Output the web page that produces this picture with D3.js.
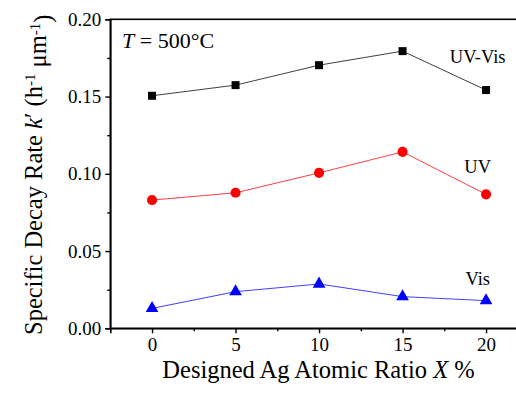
<!DOCTYPE html>
<html>
<head>
<meta charset="utf-8">
<script src="https://cdn.jsdelivr.net/npm/d3@7"></script>
<style>
  body { margin: 0; background: #fff; }
  svg text { font-family: "Liberation Serif", "Times New Roman", Times, "DejaVu Serif", serif; fill: #000; }
</style>
</head>
<body>
<svg id="chart" width="516" height="394"></svg>
<script>
// Designed Ag atomic ratio X (%)
const ratios = [0, 5, 10, 15, 20];
// Specific decay rate k' (h^-1 um^-1) under each illumination
const uvVis = [0.1505, 0.1574, 0.1703, 0.1794, 0.1542];
const uv    = [0.0830, 0.0877, 0.1006, 0.1142, 0.0867];
const vis   = [0.0129, 0.0237, 0.0287, 0.0205, 0.0179];
const seriesNames = ["UV-Vis", "UV", "Vis"];
// Axis ticks
const xTicks = [0, 5, 10, 15, 20];
const xMinorTicks = [2.5, 7.5, 12.5, 17.5];
const yTicks = [0.00, 0.05, 0.10, 0.15, 0.20];
const yMinorTicks = [0.025, 0.075, 0.125, 0.175];

const FONT = '"Liberation Serif", "Times New Roman", Times, "DejaVu Serif", serif';

const series = [
  { name: seriesNames[0], values: uvVis, color: "#000000", shape: d3.symbolSquare, size: 64 },
  { name: seriesNames[1], values: uv,    color: "#ff0000", shape: d3.symbolCircle, size: 80 },
  { name: seriesNames[2], values: vis,   color: "#0000ff", shape: d3.symbolTriangle, size: 70 }
];

const svg = d3.select("#chart").attr("font-family", FONT);
const x = d3.scaleLinear().domain([-2.5, 22.5]).range([110.3, 527.8]);
const y = d3.scaleLinear().domain([0, 0.2]).range([328.3, 19.3]);

// plot frame
svg.append("rect")
  .attr("x", x(-2.5)).attr("y", y(0.2))
  .attr("width", x(22.5) - x(-2.5)).attr("height", y(0) - y(0.2))
  .attr("fill", "none").attr("stroke", "#000").attr("stroke-width", 1.6);

// x axis
svg.append("g").attr("transform", `translate(0,${y(0)})`)
  .call(d3.axisBottom(x).tickValues(xTicks).tickFormat(d3.format("d")).tickSize(5).tickPadding(4));
svg.append("g").attr("transform", `translate(0,${y(0)})`)
  .call(d3.axisBottom(x).tickValues(xMinorTicks).tickFormat("").tickSize(3))
  .call(g => g.select(".domain").remove());

// y axis
svg.append("g").attr("transform", `translate(${x(-2.5)},0)`)
  .call(d3.axisLeft(y).tickValues(yTicks).tickFormat(d3.format(".2f")).tickSize(5).tickPadding(4));
svg.append("g").attr("transform", `translate(${x(-2.5)},0)`)
  .call(d3.axisLeft(y).tickValues(yMinorTicks).tickFormat("").tickSize(3))
  .call(g => g.select(".domain").remove());

svg.selectAll("g").attr("font-family", FONT);
svg.selectAll(".domain").attr("stroke-width", 1.6);
svg.selectAll(".tick line").attr("stroke-width", 1.4);
svg.selectAll(".tick text")
  .attr("font-family", FONT)
  .attr("font-size", 19).attr("fill", "#000");

// series lines and markers
const line = d3.line().x((d, i) => x(ratios[i])).y(d => y(d));
series.forEach(s => {
  svg.append("path").datum(s.values)
    .attr("d", line).attr("fill", "none")
    .attr("stroke", s.color).attr("stroke-width", 1).attr("stroke-opacity", 0.75);
  svg.append("g").selectAll("path").data(s.values).join("path")
    .attr("d", d3.symbol().type(s.shape).size(s.size))
    .attr("transform", (d, i) => `translate(${x(ratios[i])},${y(d)})`)
    .attr("fill", s.color);
});

// series labels
const labelPos = [[19.5, 0.1716], [19.5, 0.1005], [19.5, 0.028]];
series.forEach((s, i) => {
  svg.append("text")
    .attr("x", x(labelPos[i][0])).attr("y", y(labelPos[i][1]))
    .attr("text-anchor", "middle").attr("font-family", FONT).attr("font-size", 18.5)
    .text(s.name);
});

// temperature annotation
const tLabel = svg.append("text").attr("x", 122).attr("y", 48)
  .attr("font-family", FONT).attr("font-size", 22);
tLabel.append("tspan").attr("font-style", "italic").text("T");
tLabel.append("tspan").text(" = 500°C");

// x axis title
const xt = svg.append("text")
  .attr("x", (162 + 475) / 2).attr("y", 378)
  .attr("text-anchor", "middle").attr("font-family", FONT).attr("font-size", 24.5);
xt.append("tspan").text("Designed Ag Atomic Ratio ");
xt.append("tspan").attr("font-style", "italic").text("X");
xt.append("tspan").text(" %");

// y axis title, written upward from the bottom of the plot
const yt = svg.append("text")
  .attr("transform", "translate(42,335) rotate(-90)")
  .attr("text-anchor", "start").attr("font-family", FONT).attr("font-size", 24.5);
yt.append("tspan").text("Specific Decay Rate ");
yt.append("tspan").attr("font-style", "italic").text("k");
yt.append("tspan").text("′ (h");
yt.append("tspan").attr("dy", "-0.45em").attr("font-size", 15).text("-1");
yt.append("tspan").attr("dy", "0.45em").text(" μm");
yt.append("tspan").attr("dy", "-0.45em").attr("font-size", 15).text("-1");
yt.append("tspan").attr("dy", "0.45em").text(")");
</script>
</body>
</html>
